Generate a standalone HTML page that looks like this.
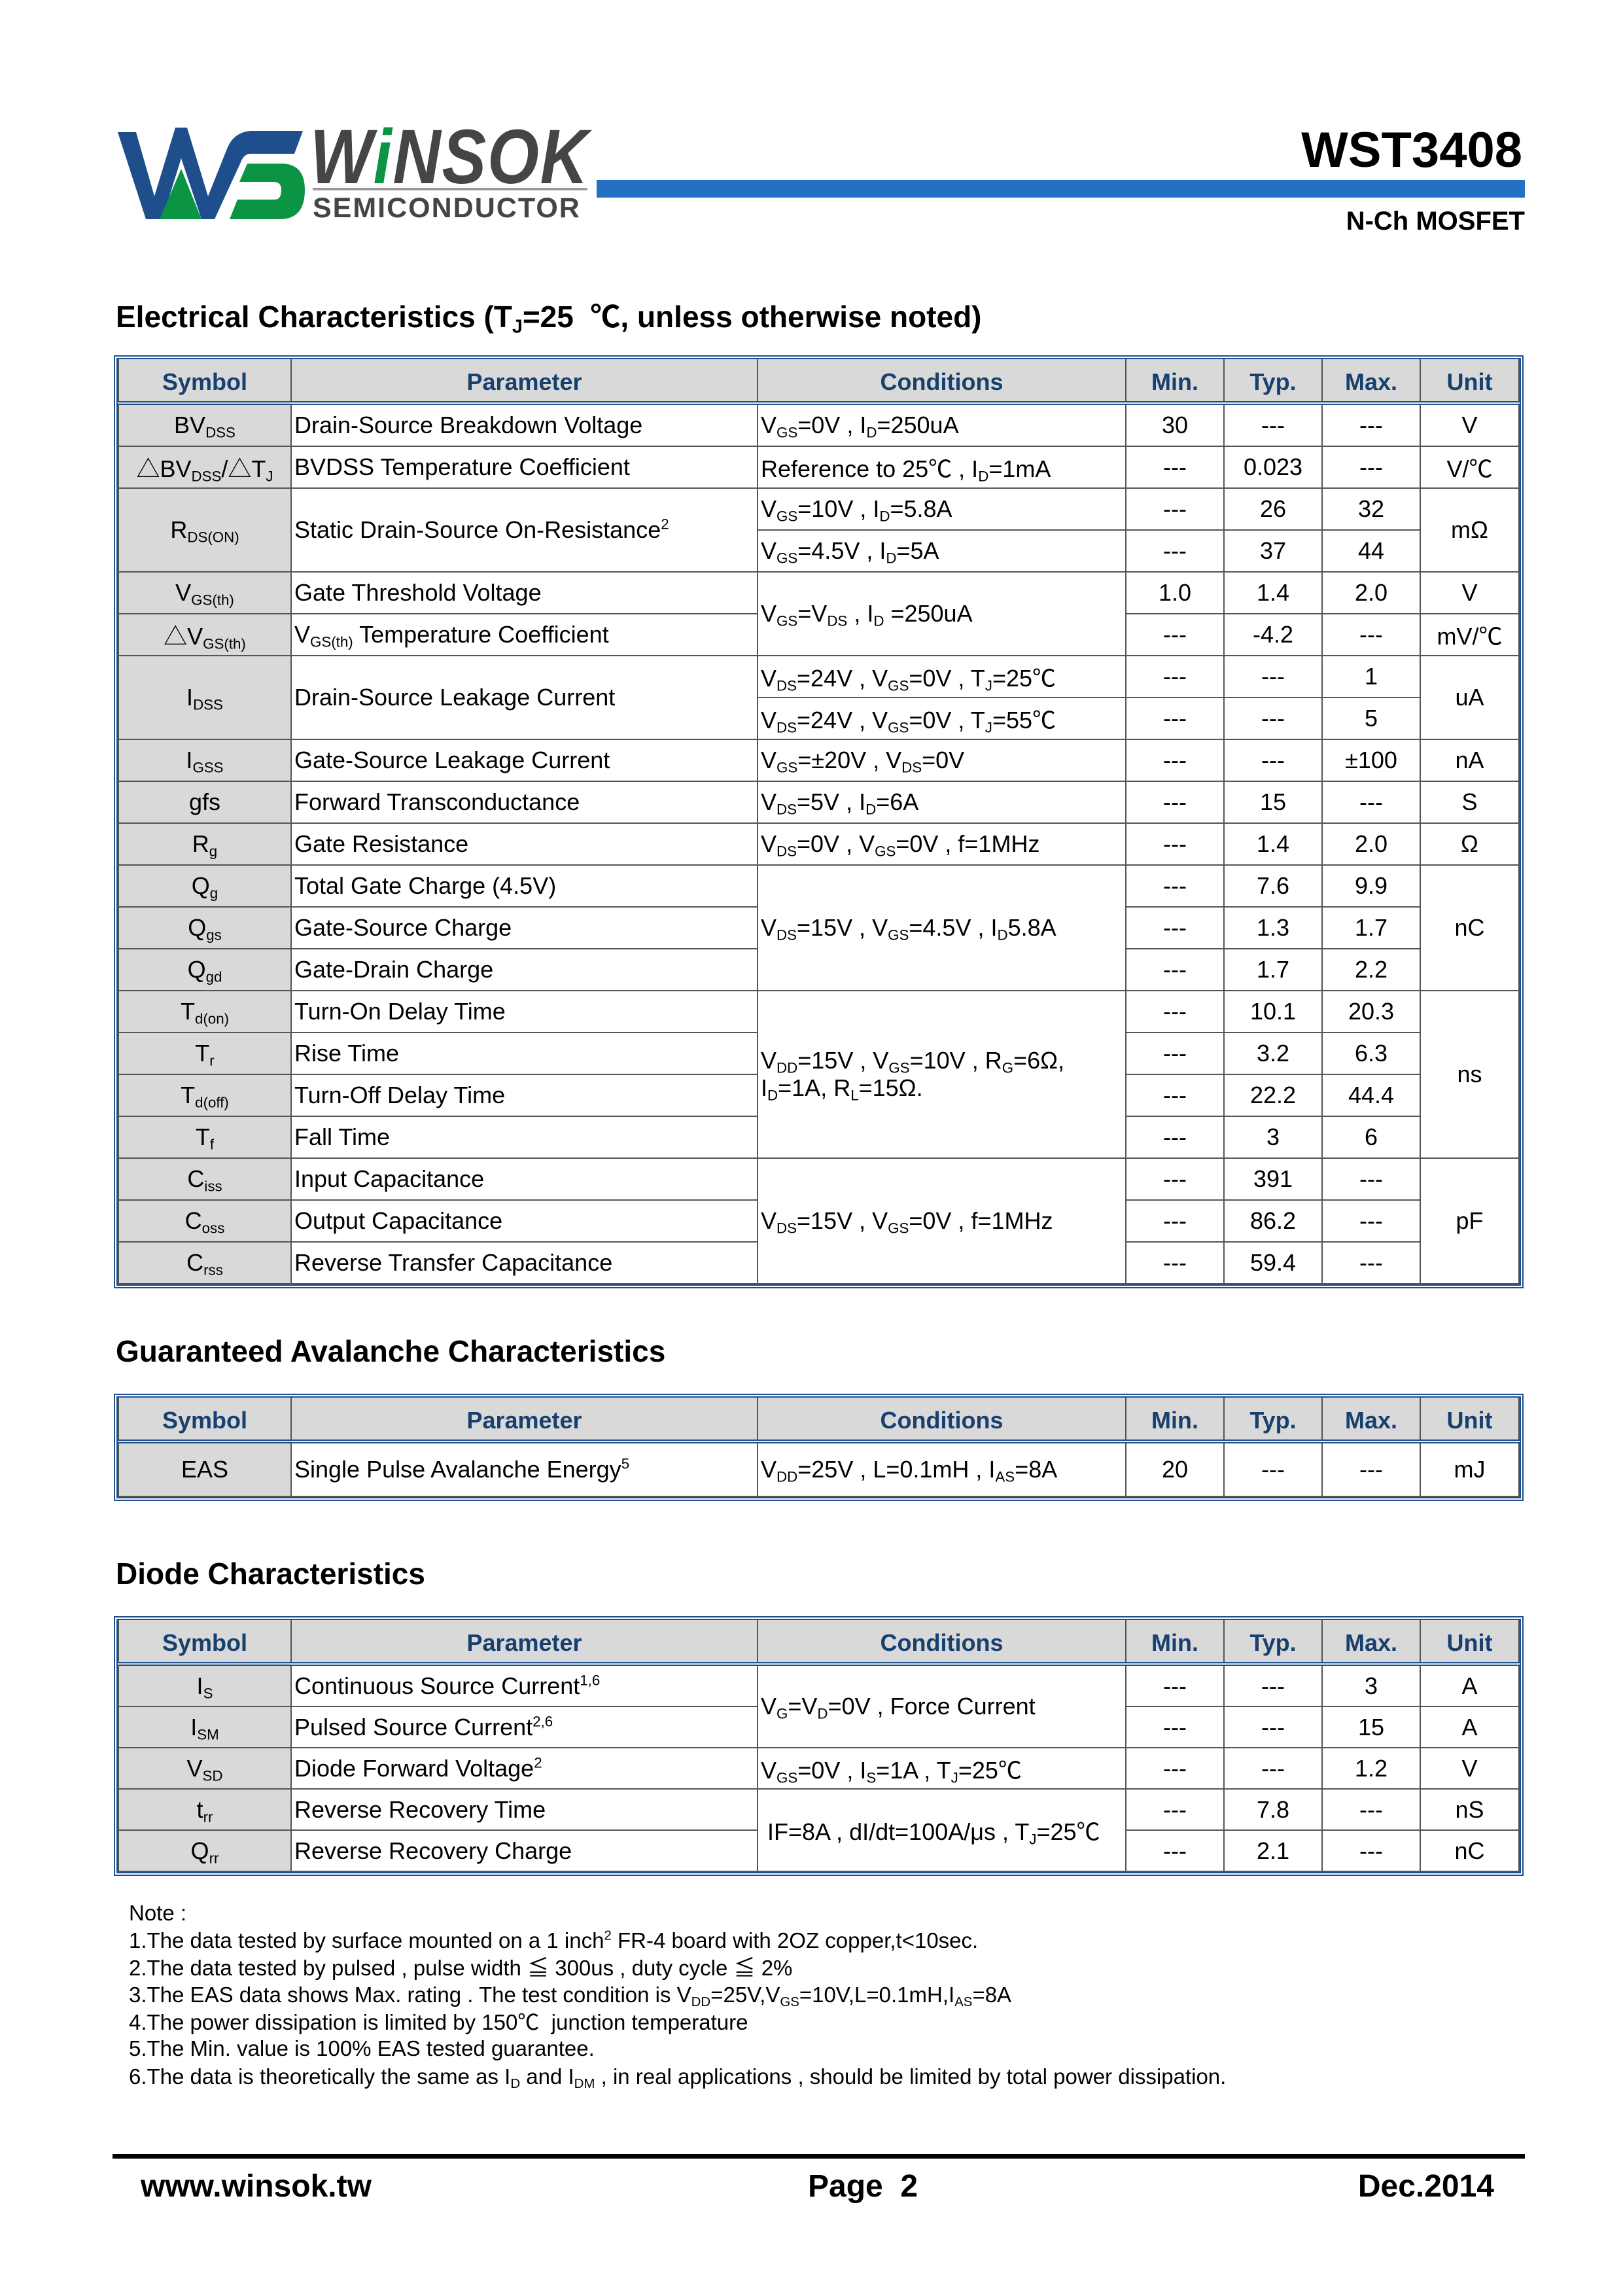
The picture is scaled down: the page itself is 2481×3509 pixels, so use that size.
<!DOCTYPE html>
<html><head><meta charset="utf-8">
<style>
body{margin:0;background:#fff;}
#pg{position:relative;width:2481px;height:3509px;overflow:hidden;font-family:"Liberation Sans","Noto Sans CJK SC",sans-serif;color:#000;}
.abs{position:absolute;white-space:nowrap;}
.tw{position:absolute;left:174px;width:2155px;border:6px double #1f4e8c;box-sizing:border-box;}
table{border-collapse:collapse;table-layout:fixed;width:100%;font-size:36px;}
td,th{border:2px solid #555;padding:0 6px;overflow:visible;white-space:nowrap;height:61px;}
.t1 td{height:62px;}
th{background:#d9d9d9;color:#17406f;font-weight:bold;height:58px;border-bottom:6px double #1f4e8c;text-align:center;padding-top:6px;}
td{text-align:center;}
td.s{background:#d9d9d9;}
td.p{text-align:left;padding-left:4px;}
td.c{text-align:left;padding-left:4px;}
sub{font-size:62%;vertical-align:-0.3em;line-height:0;}
sup{font-size:62%;vertical-align:0.6em;line-height:0;}
tr:first-child th{border-top:none;}
.h{font-weight:bold;font-size:46px;}
.n{font-size:33px;left:197px;line-height:36px;height:36px;}
</style></head><body><div id="pg">
<svg class="abs" style="left:178px;top:190px" width="290" height="150" viewBox="0 0 290 150">
<path d="M2,12 L30,12 L58,110 L90,5 L108,5 L140,110 L170,35 Q180,12 205,10 L285,10 L272,45 L205,45 Q195,45 190,58 L150,145 L130,145 L99,52 L70,145 L45,145 Z" fill="#1f4e8c"/>
<path d="M66,145 L99,68 L130,145 Z" fill="#0a9444"/>
<path d="M200,60 L255,60 Q288,62 288,100 Q288,145 250,145 L173,145 L185,115 L242,115 Q252,115 252,100 Q252,88 240,88 L188,88 Z" fill="#0a9444"/>
</svg>
<div class="abs" style="left:474px;top:172px;font-size:118px;font-weight:bold;font-style:italic;color:#454545;letter-spacing:2px;transform:scaleX(0.86);transform-origin:left;">W<span style="color:#0a9444">i</span>NSOK</div>
<div class="abs" style="left:478px;top:287px;width:420px;height:4px;background:#999"></div>
<div class="abs" style="left:478px;top:294px;font-size:43px;font-weight:bold;color:#454545;letter-spacing:2px;">SEMICONDUCTOR</div>
<div class="abs" style="left:912px;top:275px;width:1419px;height:27px;background:#2470c2"></div>
<div class="abs" style="right:154px;top:186px;font-size:76px;font-weight:bold;">WST3408</div>
<div class="abs" style="right:150px;top:316px;font-size:40px;font-weight:bold;">N-Ch MOSFET</div>

<div class="abs h" style="left:177px;top:448px;">Electrical Characteristics (T<sub>J</sub>=25 &nbsp;℃, unless otherwise noted)</div>
<div class="tw" style="top:543px;">
<table class="t1">
<colgroup><col style="width:264px"><col style="width:713px"><col style="width:563px"><col style="width:150px"><col style="width:150px"><col style="width:150px"><col></colgroup>
<tr><th>Symbol</th><th>Parameter</th><th>Conditions</th><th>Min.</th><th>Typ.</th><th>Max.</th><th>Unit</th></tr>
<tr><td class="s">BV<sub>DSS</sub></td><td class="p">Drain-Source Breakdown Voltage</td><td class="c">V<sub>GS</sub>=0V , I<sub>D</sub>=250uA</td><td>30</td><td>---</td><td>---</td><td>V</td></tr>
<tr><td class="s">△BV<sub>DSS</sub>/△T<sub>J</sub></td><td class="p">BVDSS Temperature Coefficient</td><td class="c">Reference to 25℃ , I<sub>D</sub>=1mA</td><td>---</td><td>0.023</td><td>---</td><td>V/℃</td></tr>
<tr><td class="s" rowspan="2">R<sub>DS(ON)</sub></td><td class="p" rowspan="2">Static Drain-Source On-Resistance<sup>2</sup></td><td class="c">V<sub>GS</sub>=10V , I<sub>D</sub>=5.8A</td><td>---</td><td>26</td><td>32</td><td rowspan="2">mΩ</td></tr>
<tr><td class="c">V<sub>GS</sub>=4.5V , I<sub>D</sub>=5A</td><td>---</td><td>37</td><td>44</td></tr>
<tr><td class="s">V<sub>GS(th)</sub></td><td class="p">Gate Threshold Voltage</td><td class="c" rowspan="2">V<sub>GS</sub>=V<sub>DS</sub> , I<sub>D</sub> =250uA</td><td>1.0</td><td>1.4</td><td>2.0</td><td>V</td></tr>
<tr><td class="s">△V<sub>GS(th)</sub></td><td class="p">V<sub>GS(th)</sub> Temperature Coefficient</td><td>---</td><td>-4.2</td><td>---</td><td>mV/℃</td></tr>
<tr><td class="s" rowspan="2">I<sub>DSS</sub></td><td class="p" rowspan="2">Drain-Source Leakage Current</td><td class="c">V<sub>DS</sub>=24V , V<sub>GS</sub>=0V , T<sub>J</sub>=25℃</td><td>---</td><td>---</td><td>1</td><td rowspan="2">uA</td></tr>
<tr><td class="c">V<sub>DS</sub>=24V , V<sub>GS</sub>=0V , T<sub>J</sub>=55℃</td><td>---</td><td>---</td><td>5</td></tr>
<tr><td class="s">I<sub>GSS</sub></td><td class="p">Gate-Source Leakage Current</td><td class="c">V<sub>GS</sub>=±20V , V<sub>DS</sub>=0V</td><td>---</td><td>---</td><td>±100</td><td>nA</td></tr>
<tr><td class="s">gfs</td><td class="p">Forward Transconductance</td><td class="c">V<sub>DS</sub>=5V , I<sub>D</sub>=6A</td><td>---</td><td>15</td><td>---</td><td>S</td></tr>
<tr><td class="s">R<sub>g</sub></td><td class="p">Gate Resistance</td><td class="c">V<sub>DS</sub>=0V , V<sub>GS</sub>=0V , f=1MHz</td><td>---</td><td>1.4</td><td>2.0</td><td>Ω</td></tr>
<tr><td class="s">Q<sub>g</sub></td><td class="p">Total Gate Charge (4.5V)</td><td class="c" rowspan="3">V<sub>DS</sub>=15V , V<sub>GS</sub>=4.5V , I<sub>D</sub>5.8A</td><td>---</td><td>7.6</td><td>9.9</td><td rowspan="3">nC</td></tr>
<tr><td class="s">Q<sub>gs</sub></td><td class="p">Gate-Source Charge</td><td>---</td><td>1.3</td><td>1.7</td></tr>
<tr><td class="s">Q<sub>gd</sub></td><td class="p">Gate-Drain Charge</td><td>---</td><td>1.7</td><td>2.2</td></tr>
<tr><td class="s">T<sub>d(on)</sub></td><td class="p">Turn-On Delay Time</td><td class="c" rowspan="4">V<sub>DD</sub>=15V , V<sub>GS</sub>=10V , R<sub>G</sub>=6Ω,<br>I<sub>D</sub>=1A, R<sub>L</sub>=15Ω.</td><td>---</td><td>10.1</td><td>20.3</td><td rowspan="4">ns</td></tr>
<tr><td class="s">T<sub>r</sub></td><td class="p">Rise Time</td><td>---</td><td>3.2</td><td>6.3</td></tr>
<tr><td class="s">T<sub>d(off)</sub></td><td class="p">Turn-Off Delay Time</td><td>---</td><td>22.2</td><td>44.4</td></tr>
<tr><td class="s">T<sub>f</sub></td><td class="p">Fall Time</td><td>---</td><td>3</td><td>6</td></tr>
<tr><td class="s">C<sub>iss</sub></td><td class="p">Input Capacitance</td><td class="c" rowspan="3">V<sub>DS</sub>=15V , V<sub>GS</sub>=0V , f=1MHz</td><td>---</td><td>391</td><td>---</td><td rowspan="3">pF</td></tr>
<tr><td class="s">C<sub>oss</sub></td><td class="p">Output Capacitance</td><td>---</td><td>86.2</td><td>---</td></tr>
<tr><td class="s">C<sub>rss</sub></td><td class="p">Reverse Transfer Capacitance</td><td>---</td><td>59.4</td><td>---</td></tr>
</table></div>

<div class="abs h" style="left:177px;top:2038px;">Guaranteed Avalanche Characteristics</div>
<div class="tw" style="top:2130px;">
<table>
<colgroup><col style="width:264px"><col style="width:713px"><col style="width:563px"><col style="width:150px"><col style="width:150px"><col style="width:150px"><col></colgroup>
<tr><th>Symbol</th><th>Parameter</th><th>Conditions</th><th>Min.</th><th>Typ.</th><th>Max.</th><th>Unit</th></tr>
<tr><td class="s" style="height:80px">EAS</td><td class="p">Single Pulse Avalanche Energy<sup>5</sup></td><td class="c">V<sub>DD</sub>=25V , L=0.1mH , I<sub>AS</sub>=8A</td><td>20</td><td>---</td><td>---</td><td>mJ</td></tr>
</table></div>

<div class="abs h" style="left:177px;top:2378px;">Diode Characteristics</div>
<div class="tw" style="top:2470px;">
<table>
<colgroup><col style="width:264px"><col style="width:713px"><col style="width:563px"><col style="width:150px"><col style="width:150px"><col style="width:150px"><col></colgroup>
<tr><th>Symbol</th><th>Parameter</th><th>Conditions</th><th>Min.</th><th>Typ.</th><th>Max.</th><th>Unit</th></tr>
<tr><td class="s">I<sub>S</sub></td><td class="p">Continuous Source Current<sup>1,6</sup></td><td class="c" rowspan="2">V<sub>G</sub>=V<sub>D</sub>=0V , Force Current</td><td>---</td><td>---</td><td>3</td><td>A</td></tr>
<tr><td class="s">I<sub>SM</sub></td><td class="p">Pulsed Source Current<sup>2,6</sup></td><td>---</td><td>---</td><td>15</td><td>A</td></tr>
<tr><td class="s">V<sub>SD</sub></td><td class="p">Diode Forward Voltage<sup>2</sup></td><td class="c">V<sub>GS</sub>=0V , I<sub>S</sub>=1A , T<sub>J</sub>=25℃</td><td>---</td><td>---</td><td>1.2</td><td>V</td></tr>
<tr><td class="s">t<sub>rr</sub></td><td class="p">Reverse Recovery Time</td><td class="c" rowspan="2" style="padding-left:14px">IF=8A , dI/dt=100A/μs , T<sub>J</sub>=25℃</td><td>---</td><td>7.8</td><td>---</td><td>nS</td></tr>
<tr><td class="s">Q<sub>rr</sub></td><td class="p">Reverse Recovery Charge</td><td>---</td><td>2.1</td><td>---</td><td>nC</td></tr>
</table></div>

<div class="abs n" style="top:2906px;">Note :</div>
<div class="abs n" style="top:2948px;">1.The data tested by surface mounted on a 1 inch<sup>2</sup> FR-4 board with 2OZ copper,t&lt;10sec.</div>
<div class="abs n" style="top:2990px;">2.The data tested by pulsed , pulse width ≦ 300us , duty cycle ≦ 2%</div>
<div class="abs n" style="top:3031px;">3.The EAS data shows Max. rating . The test condition is V<sub>DD</sub>=25V,V<sub>GS</sub>=10V,L=0.1mH,I<sub>AS</sub>=8A</div>
<div class="abs n" style="top:3073px;">4.The power dissipation is limited by 150℃ &nbsp;junction temperature</div>
<div class="abs n" style="top:3113px;">5.The Min. value is 100% EAS tested guarantee.</div>
<div class="abs n" style="top:3156px;">6.The data is theoretically the same as I<sub>D</sub> and I<sub>DM</sub> , in real applications , should be limited by total power dissipation.</div>

<div class="abs" style="left:172px;top:3292px;width:2159px;height:7px;background:#000"></div>
<div class="abs" style="left:215px;top:3314px;font-size:48px;font-weight:bold;">www.winsok.tw</div>
<div class="abs" style="left:1235px;top:3314px;font-size:48px;font-weight:bold;">Page &nbsp;2</div>
<div class="abs" style="right:197px;top:3314px;font-size:48px;font-weight:bold;">Dec.2014</div>
</div></body></html>
